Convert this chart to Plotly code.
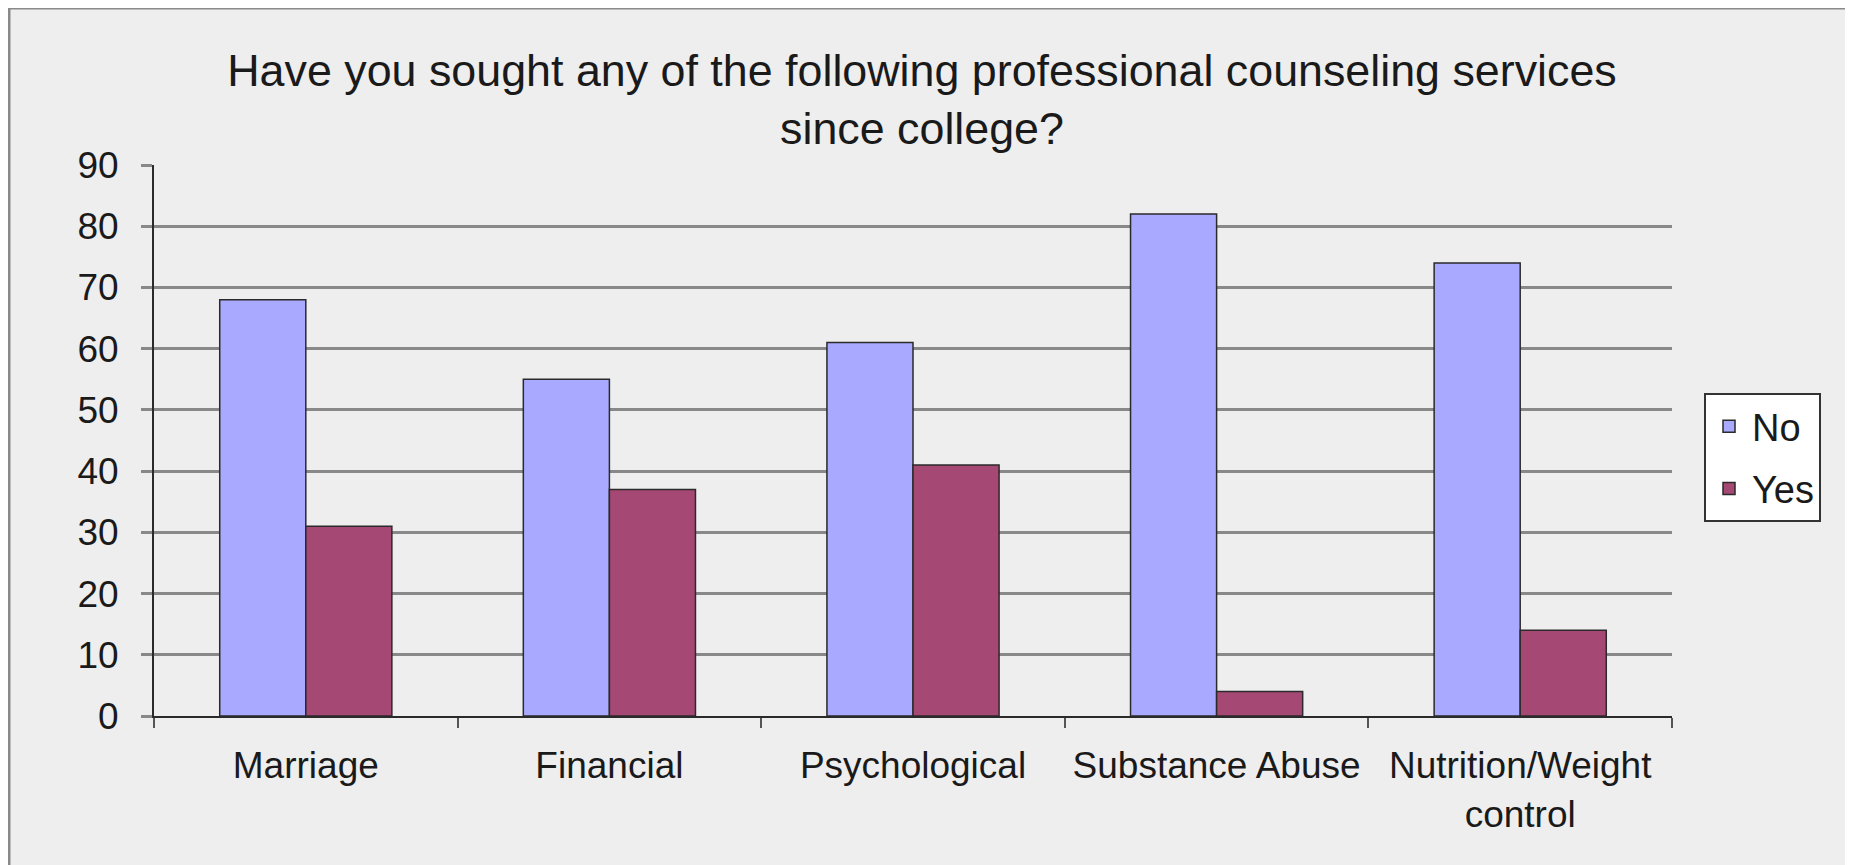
import plotly.graph_objects as go

categories = ["Marriage", "Financial", "Psychological", "Substance Abuse", "Nutrition/Weight<br>control"]
no_values = [68, 55, 61, 82, 74]
yes_values = [31, 37, 41, 4, 14]
y_ticks = [0, 10, 20, 30, 40, 50, 60, 70, 80, 90]

OFF = 8  # page body margin
W, H = 1853 - OFF, 865 - OFF
# desired plot area in page pixels
PX0, PX1, PY0, PY1 = 154, 1672, 165, 716
L, R, T, B = PX0 - OFF, W - (PX1 - OFF), PY0 - OFF, H - (PY1 - OFF)
FONT = "Liberation Sans, Arial, Helvetica, sans-serif"

pw = W - L - R
ph = H - T - B
def px_x(x):  # page px -> paper x
    return (x - OFF - L) / pw
def px_y(y):  # page px -> paper y
    return (H - B - (y - OFF)) / ph

fig = go.Figure()
fig.add_trace(go.Bar(
    name="No", x=categories, y=no_values,
    marker=dict(color="#A9AAFF", line=dict(color="#2a2a2a", width=1.5)),
    legendgroup="no",
))
fig.add_trace(go.Bar(
    name="Yes", x=categories, y=yes_values,
    marker=dict(color="#A64874", line=dict(color="#2a2a2a", width=1.5)),
    legendgroup="yes",
))

fig.update_layout(
    width=W, height=H,
    margin=dict(l=L, r=R, t=T, b=B, pad=0, autoexpand=False),
    paper_bgcolor="white",
    plot_bgcolor="rgba(0,0,0,0)",
    barmode="group", bargap=0.433, bargroupgap=0,
    font=dict(family=FONT, size=37, color="#1a1a1a"),
    title=dict(
        text="Have you sought any of the following professional counseling services<br>since college?",
        x=(922 - OFF) / W, xref="container", xanchor="center",
        y=1 - 78 / H, yref="container", yanchor="top",
        font=dict(family=FONT, size=44.8, color="#1a1a1a"),
    ),
    showlegend=True,
    legend=dict(
        x=px_x(1704), y=px_y(393), xanchor="left", yanchor="top",
        bgcolor="white", bordercolor="#333333", borderwidth=2,
        font=dict(family=FONT, size=38, color="#1a1a1a"),
        tracegroupgap=10, traceorder="grouped", itemwidth=36,
    ),
    shapes=[dict(
        type="rect", xref="paper", yref="paper", layer="below",
        x0=px_x(9), x1=px_x(1848), y0=px_y(890), y1=px_y(8),
        fillcolor="#EEEEEE", line=dict(color="#8a8a8a", width=3),
    )],
)

fig.update_xaxes(
    showline=True, linecolor="#2a2a2a", linewidth=2,
    ticks="outside", tickson="boundaries", ticklen=10, tickwidth=2, tickcolor="#555555",
    showgrid=False, ticklabelstandoff=16, automargin=False,
    tickfont=dict(family=FONT, size=37, color="#1a1a1a"),
)
fig.update_yaxes(
    range=[0, 90], tickvals=y_ticks,
    showline=True, linecolor="#2a2a2a", linewidth=2,
    ticks="outside", ticklen=11, tickwidth=3, tickcolor="#888888",
    showgrid=True, gridcolor="#888888", gridwidth=3,
    zeroline=False, ticklabelstandoff=15, automargin=False,
    tickfont=dict(family=FONT, size=37, color="#1a1a1a"),
)

fig.write_html("out.html")
